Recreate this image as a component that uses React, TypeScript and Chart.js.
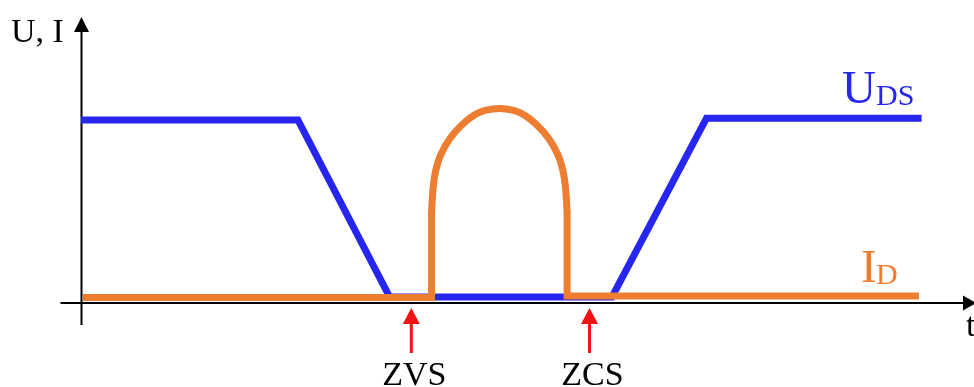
import { useEffect, useRef } from 'react';
import { Chart, registerables } from 'chart.js';

Chart.register(...registerables);

// ---- data (time t, arbitrary units; amplitude in % of axis) ----
const udsT = [0, 24.1, 34.3, 59.0, 69.5, 93.4];
const udsV = [91.5, 91.5, 3, 3, 92.4, 92.4];

const idOnT = [0.2, 38.95, 38.95];
const idOnV = [2.75, 2.75, 45.6];

const idArcT = [38.95, 39.12, 39.39, 39.96, 41.01, 42.31, 43.7, 44.9, 46.48, 48.06, 49.26, 50.65, 51.95, 53.0, 53.57, 53.84, 54.01];
const idArcV = [45.6, 57.4, 65.7, 74, 82.4, 89, 94, 96.3, 97.3, 96.3, 94, 89, 82.4, 74, 65.7, 57.4, 45.6];

const idOffT = [54.01, 54.01, 93.1];
const idOffV = [45.6, 3.5, 3.5];

const markerT = [36.7, 56.5];
const markerLabels = ['ZVS', 'ZCS'];

const yAxisTitle = 'U, I';
const xAxisTitle = 't';
const udsLabel = ['U', 'DS'];
const idLabel = ['I', 'D'];

const BLUE = '#2626F0';
const ORANGE = '#ED7D31';
const RED = '#F01414';
const SERIF = '"Liberation Serif", "Times New Roman", serif';

const pts = (t: number[], v: number[]) => t.map((x, i) => ({ x, y: v[i] }));

const overlay = {
  id: 'overlay',
  beforeDatasetsDraw(chart: any) {
    const { ctx, scales } = chart;
    const ox = scales.x.getPixelForValue(0) + 0.5;
    const oy = scales.y.getPixelForValue(0);
    const W = chart.width;
    ctx.save();
    ctx.strokeStyle = '#000';
    ctx.fillStyle = '#000';
    ctx.lineWidth = 2;
    ctx.beginPath();
    ctx.moveTo(ox - 21, oy);
    ctx.lineTo(W - 10, oy);
    ctx.moveTo(ox, oy + 22);
    ctx.lineTo(ox, 28);
    ctx.stroke();
    // x arrow head
    ctx.beginPath();
    ctx.moveTo(W + 2, oy);
    ctx.lineTo(W - 11, oy - 7.5);
    ctx.lineTo(W - 11, oy + 7.5);
    ctx.closePath();
    ctx.fill();
    // y arrow head
    ctx.beginPath();
    ctx.moveTo(ox, 17);
    ctx.lineTo(ox - 7.5, 32);
    ctx.lineTo(ox + 7.5, 32);
    ctx.closePath();
    ctx.fill();
    ctx.restore();
  },
  afterDatasetsDraw(chart: any) {
    const { ctx, scales } = chart;
    const oy = scales.y.getPixelForValue(0);
    ctx.save();
    // axis titles
    ctx.fillStyle = '#000';
    ctx.textBaseline = 'alphabetic';
    ctx.textAlign = 'left';
    ctx.font = `34px ${SERIF}`;
    ctx.fillText(yAxisTitle, 11, 42);
    ctx.fillText(xAxisTitle, 966, 336);

    // red markers
    markerT.forEach((t, i) => {
      const mx = scales.x.getPixelForValue(t);
      const tip = oy + 5;
      ctx.fillStyle = RED;
      ctx.fillRect(mx - 1.5, tip + 14, 3, 31);
      ctx.beginPath();
      ctx.moveTo(mx, tip);
      ctx.lineTo(mx - 8.5, tip + 16);
      ctx.lineTo(mx + 8.5, tip + 16);
      ctx.closePath();
      ctx.fill();
      ctx.fillStyle = '#000';
      ctx.textAlign = 'center';
      ctx.font = `34px ${SERIF}`;
      ctx.fillText(markerLabels[i], mx + 3, 385);
    });

    // series labels
    ctx.textAlign = 'left';
    ctx.fillStyle = BLUE;
    ctx.font = `47px ${SERIF}`;
    ctx.fillText(udsLabel[0], 842, 103);
    ctx.font = `30px ${SERIF}`;
    ctx.fillText(udsLabel[1], 876, 105);

    ctx.fillStyle = ORANGE;
    ctx.font = `47px ${SERIF}`;
    ctx.fillText(idLabel[0], 861, 282);
    ctx.font = `30px ${SERIF}`;
    ctx.fillText(idLabel[1], 876, 284);
    ctx.restore();
  },
};

export default function App() {
  const ref = useRef<HTMLCanvasElement | null>(null);

  useEffect(() => {
    document.body.style.margin = '0';
    const canvas = ref.current;
    if (!canvas) return;
    const base = {
      pointRadius: 0,
      borderWidth: 7,
      clip: false as any,
      fill: false,
    };
    const chart = new Chart(canvas, {
      type: 'line',
      data: {
        datasets: [
          { ...base, label: 'I_D', data: pts(idOnT, idOnV), borderColor: ORANGE, tension: 0, order: 0, borderJoinStyle: 'miter' },
          { ...base, label: 'I_D arc', data: pts(idArcT, idArcV), borderColor: ORANGE, tension: 0.4, order: 0, borderCapStyle: 'round', borderJoinStyle: 'round' },
          { ...base, label: 'I_D off', data: pts(idOffT, idOffV), borderColor: ORANGE, tension: 0, order: 0, borderJoinStyle: 'miter' },
          { ...base, label: 'U_DS', data: pts(udsT, udsV), borderColor: BLUE, tension: 0, order: 1, borderJoinStyle: 'miter' },
        ],
      },
      options: {
        animation: false,
        responsive: false,
        maintainAspectRatio: false,
        events: [],
        layout: { padding: { left: 81, right: 11, top: 103, bottom: 84 } },
        scales: {
          x: { type: 'linear', min: 0, max: 98, display: false },
          y: { type: 'linear', min: 0, max: 100, display: false },
        },
        plugins: {
          legend: { display: false },
          tooltip: { enabled: false },
        },
      },
      plugins: [overlay],
    });
    return () => chart.destroy();
  }, []);

  return (
    <div style={{ width: 974, height: 387, background: '#fff' }}>
      <canvas ref={ref} width={974} height={387} style={{ display: 'block' }} />
    </div>
  );
}
